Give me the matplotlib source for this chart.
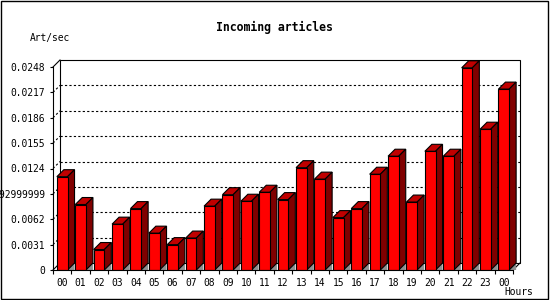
import numpy as np
import matplotlib
matplotlib.use('Agg')
import matplotlib.pyplot as plt
from matplotlib.patches import Polygon, Rectangle

# hourly rate of incoming articles
hours = ['00', '01', '02', '03', '04', '05', '06', '07', '08', '09', '10', '11',
         '12', '13', '14', '15', '16', '17', '18', '19', '20', '21', '22', '23', '00']
rates = [0.0114, 0.0080, 0.0025, 0.0056, 0.0075, 0.0045, 0.0031, 0.0039,
         0.0078, 0.0092, 0.0084, 0.0095, 0.0086, 0.0125, 0.0111, 0.0064,
         0.0075, 0.0117, 0.0139, 0.0083, 0.0145, 0.0139, 0.0247, 0.0172, 0.0221]
ytick_vals = [0, 0.0031, 0.0062, 0.0093, 0.0124, 0.0155, 0.0186, 0.0217, 0.0248]
ytick_text = ['0', '0.0031', '0.0062', '0.0092999999', '0.0124', '0.0155',
              '0.0186', '0.0217', '0.0248']

W, H = 550, 300
plt.rcParams['font.family'] = 'DejaVu Sans Mono'
fig = plt.figure(figsize=(W / 100, H / 100), dpi=100)
fig.patch.set_facecolor('white')

# front plane of the plot in pixels
left, right, top, bottom = 53, 513, 67, 270
ax = fig.add_axes([left / W, (H - bottom) / H, (right - left) / W, (bottom - top) / H])
n = len(rates)
ymax = ytick_vals[-1]
ax.set_xlim(-0.5, n - 0.5)
ax.set_ylim(0, ymax)
ax.patch.set_alpha(0)

depth = 7  # px, 3d offset
dx = depth / ((right - left) / n)
dy = depth / (bottom - top) * ymax
bw = 0.58

# back wall
ax.add_patch(Rectangle((-0.5 + dx, dy), n, ymax, facecolor='white', edgecolor='black',
                       lw=0.8, zorder=0.5, clip_on=False))
for t in ytick_vals[1:-1]:
    ax.plot([-0.5 + dx, n - 0.5 + dx], [t + dy, t + dy], color='black', lw=0.8,
            dashes=(2, 2), zorder=1, clip_on=False)
    ax.plot([-0.5, -0.5 + dx], [t, t + dy], color='black', lw=0.8,
            dashes=(2, 2), zorder=1, clip_on=False)
for x0, y0 in [(-0.5, ymax), (-0.5, 0), (n - 0.5, 0)]:
    ax.plot([x0, x0 + dx], [y0, y0 + dy], color='black', lw=0.8, zorder=1, clip_on=False)

# bars
x = np.arange(n)
ax.bar(x, rates, width=bw, color='#ff0000', edgecolor='black', lw=0.8, zorder=3)
for i, v in enumerate(rates):
    xl, xr = i - bw / 2, i + bw / 2
    ax.add_patch(Polygon([(xl, v), (xr, v), (xr + dx, v + dy), (xl + dx, v + dy)],
                         closed=True, facecolor='#c00000', edgecolor='black', lw=0.8,
                         zorder=2.5, clip_on=False))
    ax.add_patch(Polygon([(xr, v), (xr + dx, v + dy), (xr + dx, dy), (xr, 0)],
                         closed=True, facecolor='#800000', edgecolor='black', lw=0.8,
                         zorder=2.5, clip_on=False))
    ax.add_patch(Polygon([(xr, 0), (xr + dx, dy), (xr + dx, 0)],
                         closed=True, facecolor='#909090', edgecolor='none',
                         zorder=2.4, clip_on=False))

# axes
for s in ['top', 'right']:
    ax.spines[s].set_visible(False)
for s in ['left', 'bottom']:
    ax.spines[s].set_linewidth(0.8)
    ax.spines[s].set_zorder(4)
ax.set_yticks(ytick_vals)
ax.set_yticklabels(ytick_text)
ax.set_xticks(x)
ax.set_xticklabels(hours)
ax.set_xticks(np.arange(-0.5, n, 1), minor=True)
ax.tick_params(axis='y', direction='out', length=2.2, width=0.8, pad=3.6, labelsize=6.9)
ax.tick_params(axis='x', which='major', length=0, pad=5.5, labelsize=6.9)
ax.tick_params(axis='x', which='minor', direction='out', length=3, width=0.8)

fig.text(274 / W, 1 - 27.5 / H, 'Incoming articles', ha='center', va='center',
         fontsize=8.3, fontweight='bold')
fig.text(30 / W, 1 - 37.5 / H, 'Art/sec', ha='left', va='center', fontsize=6.9)
fig.text(533 / W, 1 - 292 / H, 'Hours', ha='right', va='center', fontsize=6.9)

# image frame
fig.add_artist(Rectangle((0.5 / W, 1.5 / H), 547 / W, 298 / H, transform=fig.transFigure,
                         fill=False, edgecolor='black', lw=1.0))

fig.savefig('out.png', dpi=100)
